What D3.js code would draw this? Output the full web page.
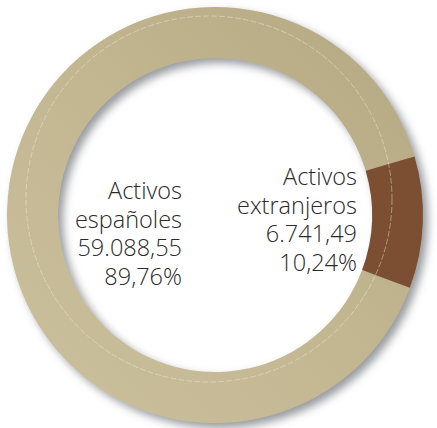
<!DOCTYPE html>
<html>
<head>
<meta charset="utf-8">
<script src="https://cdn.jsdelivr.net/npm/d3@7"></script>
<style>
  html, body { margin: 0; padding: 0; background: #fff; }
  svg { display: block; }
</style>
</head>
<body>
<svg id="chart" width="437" height="428"></svg>
<script>
const categories = ["Activos españoles", "Activos extranjeros"];
const values = [59088.55, 6741.49];
const valueLabels = ["59.088,55", "6.741,49"];
const percentLabels = ["89,76%", "10,24%"];
const labelLines = [["Activos", "españoles"], ["Activos", "extranjeros"]];

const W = 437, H = 428;
const cx = 215, cy = 215, rOuter = 208, rInner = 157;

const svg = d3.select("#chart");
const defs = svg.append("defs");

const filt = defs.append("filter").attr("id", "shadow")
  .attr("x", "-20%").attr("y", "-20%").attr("width", "140%").attr("height", "140%");
filt.append("feDropShadow").attr("dx", 5).attr("dy", 5).attr("stdDeviation", 4)
  .attr("flood-color", "#6d6f75").attr("flood-opacity", 0.7);

const gBeige = defs.append("linearGradient").attr("id", "gBeige")
  .attr("gradientUnits", "userSpaceOnUse")
  .attr("x1", cx - rOuter).attr("y1", cy + rOuter).attr("x2", cx + rOuter).attr("y2", cy - rOuter);
gBeige.append("stop").attr("offset", "0%").attr("stop-color", "#cbc09d");
gBeige.append("stop").attr("offset", "50%").attr("stop-color", "#c3b792");
gBeige.append("stop").attr("offset", "100%").attr("stop-color", "#b4a883");

const gBrown = defs.append("linearGradient").attr("id", "gBrown")
  .attr("gradientUnits", "userSpaceOnUse")
  .attr("x1", cx + rInner).attr("y1", cy).attr("x2", cx + rOuter).attr("y2", cy);
gBrown.append("stop").attr("offset", "0%").attr("stop-color", "#7d4f33");
gBrown.append("stop").attr("offset", "100%").attr("stop-color", "#5f3118");

const colors = ["url(#gBeige)", "url(#gBrown)"];

const start = 110.5 * Math.PI / 180;
const pie = d3.pie().sort(null).startAngle(start).endAngle(start + 2 * Math.PI);
const arc = d3.arc().innerRadius(rInner).outerRadius(rOuter);

const g = svg.append("g").attr("transform", `translate(${cx},${cy})`);
const ring = g.append("g").attr("filter", "url(#shadow)");
ring.selectAll("path").data(pie(values)).join("path")
  .attr("d", arc)
  .attr("fill", (d, i) => colors[i]);

// subtle decorative highlight line within ring
const clip = defs.append("clipPath").attr("id", "ringClip");
clip.append("path").attr("d", d3.arc().innerRadius(rInner).outerRadius(rOuter).startAngle(0).endAngle(2 * Math.PI)())
  .attr("transform", `translate(${cx},${cy})`);
svg.append("circle").attr("cx", cx - 6).attr("cy", cy - 16).attr("r", 183)
  .attr("fill", "none").attr("stroke", "#f4eedc").attr("stroke-opacity", 0.55)
  .attr("stroke-width", 0.8).attr("stroke-dasharray", "6 2")
  .attr("clip-path", "url(#ringClip)");

// labels
const labelPos = [{x: 182, y: 199}, {x: 357, y: 185}];
const lineH = 28.6;
labelPos.forEach((p, i) => {
  const lines = [...labelLines[i], valueLabels[i], percentLabels[i]];
  const t = svg.append("text")
    .attr("text-anchor", "end")
    .attr("font-family", "'Open Sans', sans-serif")
    .attr("font-weight", 300)
    .attr("font-size", 23.5)
    .attr("fill", "#2a2a2a");
  lines.forEach((s, k) => {
    t.append("tspan").attr("x", p.x).attr("y", p.y + k * lineH).text(s);
  });
});
</script>
</body>
</html>
